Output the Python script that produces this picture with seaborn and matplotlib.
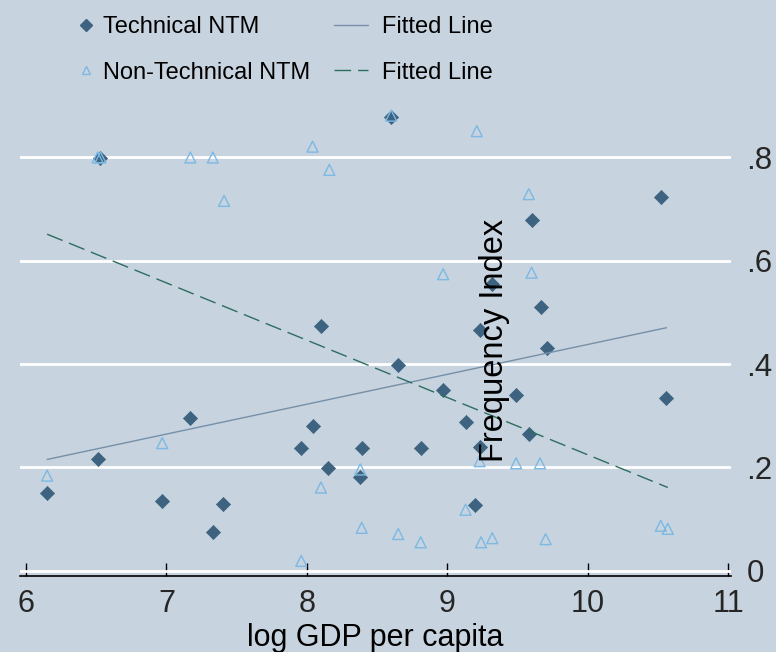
import numpy as np
import pandas as pd
import matplotlib
matplotlib.use("Agg")
import matplotlib.pyplot as plt
import seaborn as sns
from matplotlib.lines import Line2D

# ---------------- data ----------------
tech_gdp = [6.15, 6.51, 6.53, 6.97, 7.17, 7.33, 7.40, 7.96, 8.04, 8.10,
            8.15, 8.38, 8.39, 8.60, 8.65, 8.81, 8.97, 9.13, 9.20, 9.23,
            9.23, 9.32, 9.49, 9.58, 9.60, 9.67, 9.71, 10.52, 10.56]
tech_freq = [0.150, 0.216, 0.799, 0.135, 0.296, 0.075, 0.129, 0.238, 0.280, 0.473,
             0.199, 0.182, 0.238, 0.879, 0.398, 0.238, 0.350, 0.288, 0.127, 0.466,
             0.240, 0.556, 0.340, 0.265, 0.678, 0.510, 0.431, 0.724, 0.335]

nontech_gdp = [6.15, 6.51, 6.53, 6.97, 7.17, 7.33, 7.41, 7.96, 8.04, 8.10, 8.16,
               8.38, 8.39, 8.60, 8.65, 8.81, 8.97, 9.13, 9.21, 9.23, 9.24,
               9.32, 9.49, 9.58, 9.60, 9.66, 9.70, 10.52, 10.57]
nontech_freq = [0.184, 0.800, 0.800, 0.247, 0.800, 0.800, 0.716, 0.019, 0.821, 0.161, 0.776,
                0.196, 0.083, 0.881, 0.071, 0.055, 0.574, 0.118, 0.851, 0.212, 0.055,
                0.063, 0.208, 0.729, 0.577, 0.208, 0.061, 0.087, 0.081]

x_ticks = [6, 7, 8, 9, 10, 11]
x_tick_labels = ["6", "7", "8", "9", "10", "11"]
y_ticks = [0, 0.2, 0.4, 0.6, 0.8]
y_tick_labels = ["0", ".2", ".4", ".6", ".8"]

legend_markers = ["Technical NTM", "Non-Technical NTM"]
legend_lines = ["Fitted Line", "Fitted Line"]

# ---------------- style ----------------
BG = "#c7d3df"
DARK = "#3d6380"
LIGHT = "#7cb9e3"
SOLID = "#7690a8"
DASH = "#2d6d60"

sns.set_theme(style="white")
plt.rcParams["font.family"] = ["Liberation Sans", "DejaVu Sans"]

fig = plt.figure(figsize=(7.76, 6.52), dpi=100, facecolor=BG)
ax = fig.add_axes([20 / 776, 76 / 652, 711 / 776, 471 / 652])
ax.set_facecolor(BG)

tech = pd.DataFrame({"gdp": tech_gdp, "freq": tech_freq})
nontech = pd.DataFrame({"gdp": nontech_gdp, "freq": nontech_freq})

sns.scatterplot(data=tech, x="gdp", y="freq", marker="D", s=52, color=DARK,
                edgecolor=DARK, linewidth=0.5, ax=ax, zorder=3)
sns.scatterplot(data=nontech, x="gdp", y="freq", marker="^", s=62,
                facecolor="none", edgecolor=LIGHT, linewidth=1.0, ax=ax, zorder=4)
sns.regplot(data=tech, x="gdp", y="freq", scatter=False, ci=None, truncate=True,
            line_kws=dict(color=SOLID, lw=1.0, zorder=5), ax=ax)
sns.regplot(data=nontech, x="gdp", y="freq", scatter=False, ci=None, truncate=True,
            line_kws=dict(color=DASH, lw=1.0, ls=(0, (12, 5)), zorder=5), ax=ax)

ax.set_xlim(5.957, 11.02)
ax.set_ylim(-0.0103, 0.9016)

ax.set_xticks(x_ticks)
ax.set_xticklabels(x_tick_labels)
ax.set_yticks(y_ticks)
ax.set_yticklabels(y_tick_labels)
ax.yaxis.tick_right()
ax.tick_params(axis="x", direction="in", length=9.5, width=1, color="black",
               labelsize=22, pad=9, bottom=True)
ax.tick_params(axis="y", length=0, labelsize=22.5, pad=11, right=True, left=False)
ax.yaxis.grid(True, color="white", lw=2)
ax.xaxis.grid(False)

for s in ["top", "left", "right"]:
    ax.spines[s].set_visible(False)
ax.spines["bottom"].set_color("black")
ax.spines["bottom"].set_linewidth(1.2)

ax.set_xlabel("log GDP per capita", fontsize=22, labelpad=3, color="black")
ax.set_ylabel("")
ax.text(0.668, 0.5, "Frequency Index", rotation=90, ha="center", va="center",
        fontsize=23.5, transform=ax.transAxes, color="black", zorder=6)

lfont = {"size": 17}
h1 = [Line2D([], [], marker="D", ls="", color=DARK, markersize=6),
      Line2D([], [], marker="^", ls="", mfc="none", mec=LIGHT, markersize=6, mew=1)]
leg1 = ax.legend(handles=h1, labels=legend_markers, loc="upper left",
                 bbox_to_anchor=(77.7 / 776, 1 - 16 / 652), bbox_transform=fig.transFigure,
                 frameon=False, prop=lfont, handlelength=0.7, handletextpad=0.37,
                 labelspacing=1.0, borderpad=0, borderaxespad=0)
ax.add_artist(leg1)
h2 = [Line2D([], [], color=SOLID, lw=1.0),
      Line2D([], [], color=DASH, lw=1.0, ls=(0, (12, 5)))]
leg2 = ax.legend(handles=h2, labels=legend_lines, loc="upper left",
                 bbox_to_anchor=(334 / 776, 1 - 16 / 652), bbox_transform=fig.transFigure,
                 frameon=False, prop=lfont, handlelength=1.44, handletextpad=0.59,
                 labelspacing=1.0, borderpad=0, borderaxespad=0)
for leg in (leg1, leg2):
    for t in leg.get_texts():
        t.set_color("black")

fig.savefig("out.png", dpi=100, facecolor=BG)
